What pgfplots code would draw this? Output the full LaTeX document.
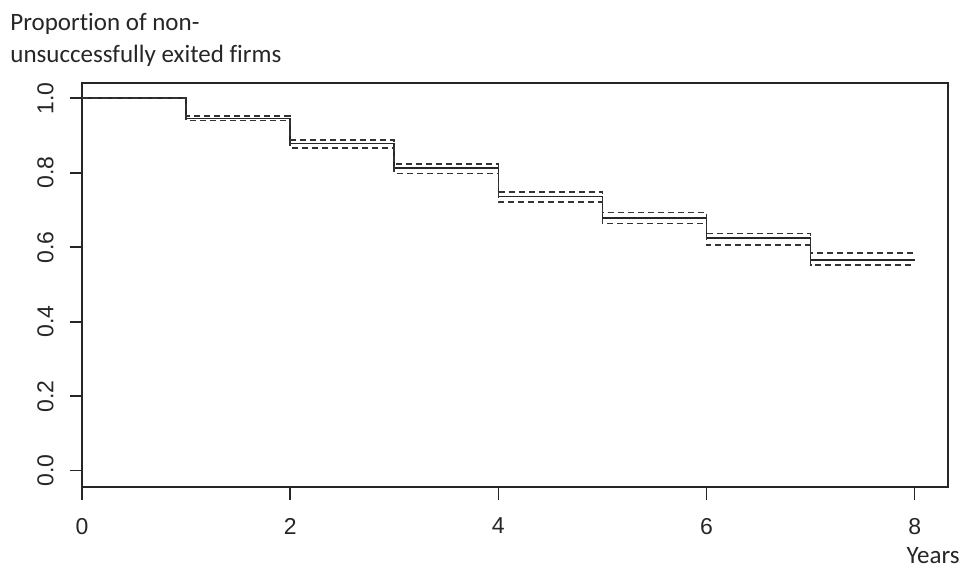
\documentclass[border=0pt]{standalone}
\usepackage{pgfplots}
\pgfplotsset{compat=1.18}
\usepackage{fontspec}
\setmainfont{Liberation Sans}
\newfontfamily\titlefont[Ligatures=NoCommon]{Carlito}
\begin{document}
\begin{tikzpicture}
\begin{axis}[
    scale only axis,
    width=433pt, height=202.15pt,
    xmin=0, xmax=8.32,
    ymin=-0.0446, ymax=1.041,
    axis line style={black!85, line width=0.8pt},
    xtick={0,2,4,6,8},
    ytick={0,0.2,0.4,0.6,0.8,1.0},
    tick pos=left,
    tick align=outside,
    major tick length=6.2pt,
    tick style={black!85, line width=0.8pt},
    /pgf/number format/assume math mode=true,
    yticklabel={\pgfmathprintnumber[fixed,fixed zerofill,precision=1]{\tick}},
    ticklabel style={font=\fontsize{11.5}{13}\selectfont, text=black!85},
    yticklabel style={rotate=90, anchor=south, inner sep=0pt},
    xticklabel style={anchor=north, inner sep=0pt},
    yticklabel shift=7.8pt,
    xticklabel shift=9pt,
    clip=false,
]
% survival estimate
\addplot[const plot, black!85, line width=0.8pt] coordinates {
    (0,1.000) (1,0.946) (2,0.879) (3,0.812) (4,0.736) (5,0.679) (6,0.624) (7,0.566) (8,0.566)
};
% upper band
\addplot[const plot, black!80, line width=0.8pt, dash pattern=on 3pt off 2pt] coordinates {
    (0,1.000) (1,0.953) (2,0.888) (3,0.823) (4,0.749) (5,0.693) (6,0.637) (7,0.584) (8,0.584)
};
% lower band
\addplot[const plot, black!80, line width=0.8pt, dash pattern=on 3pt off 2pt] coordinates {
    (0,1.000) (1,0.940) (2,0.866) (3,0.798) (4,0.721) (5,0.664) (6,0.606) (7,0.552) (8,0.552)
};
\node[anchor=base west, inner sep=0pt, font=\titlefont\fontsize{12.5}{14}\selectfont, text=black!85]
    at (rel axis cs:0,1) [xshift=-36pt, yshift=26pt] {Proportion of non-};
\node[anchor=base west, inner sep=0pt, font=\titlefont\fontsize{12.5}{14}\selectfont, text=black!85]
    at (rel axis cs:0,1) [xshift=-36pt, yshift=10pt] {unsuccessfully exited firms};
\node[anchor=base east, inner sep=0pt, font=\titlefont\fontsize{12.5}{14}\selectfont, text=black!85]
    at (rel axis cs:1,0) [xshift=6pt, yshift=-38pt] {Years};
\end{axis}
\pgfresetboundingbox
\path[use as bounding box] (current axis.south west) ++(-41pt,-41.35pt) rectangle ([xshift=10.5pt,yshift=41.5pt]current axis.north east);
\end{tikzpicture}
\end{document}
